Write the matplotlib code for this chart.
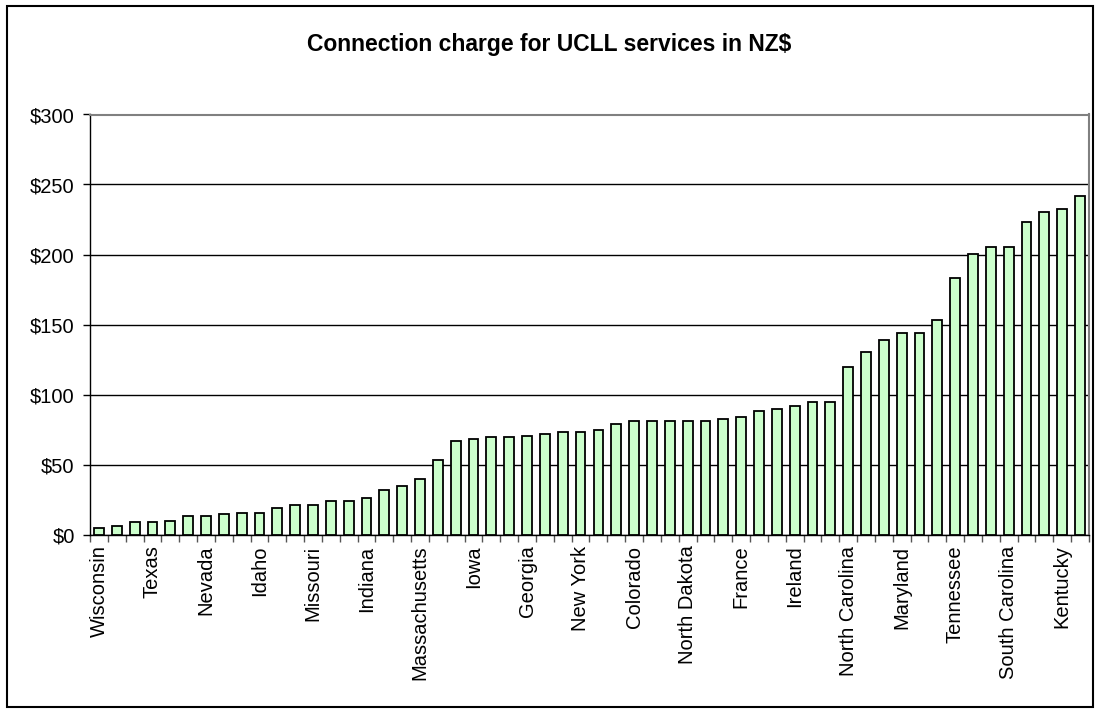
import matplotlib
matplotlib.use("Agg")
import matplotlib.pyplot as plt
from matplotlib.patches import Rectangle
from matplotlib.ticker import FuncFormatter, FixedLocator

plt.rcParams['font.family'] = ['Liberation Sans', 'DejaVu Sans']

title = "Connection charge for UCLL services in NZ$"

# Connection charge per jurisdiction, sorted ascending (NZ$)
charges = [5, 6, 9, 9, 10, 13, 13, 14.5, 15.7, 15.7,
           18.6, 21, 21, 23.8, 23.8, 26.4, 32, 34.5, 40, 53,
           66.6, 68, 69.3, 69.3, 70.4, 71.9, 73.3, 73.3, 74.5, 78.6,
           81.4, 81.4, 81.4, 81.4, 81.4, 82.6, 84, 88, 89.3, 92,
           94.5, 94.5, 120, 130.7, 138.8, 144, 144, 153.3, 183, 200.2,
           205.7, 205.7, 223.3, 230, 232.4, 241.9]

# Every third category carries a label
label_step = 3
shown_labels = ["Wisconsin", "Texas", "Nevada", "Idaho", "Missouri", "Indiana",
                "Massachusetts", "Iowa", "Georgia", "New York", "Colorado",
                "North Dakota", "France", "Ireland", "North Carolina", "Maryland",
                "Tennessee", "South Carolina", "Kentucky"]

y_ticks = [0, 50, 100, 150, 200, 250, 300]

W, H = 1099, 713
fig = plt.figure(figsize=(W / 100, H / 100), dpi=100)
fig.patch.set_facecolor("white")

# outer chart frame
fig.patches.append(Rectangle((7 / W, 1 - 707 / H), (1093 - 7) / W, (707 - 6) / H,
                             transform=fig.transFigure, fill=False,
                             edgecolor="black", linewidth=1.5, zorder=0))

left, right, top, bottom = 90, 1089, 114.5, 534.5
ax = fig.add_axes([left / W, 1 - bottom / H, (right - left) / W, (bottom - top) / H])

n = len(charges)
xs = list(range(n))
ax.bar(xs, charges, width=0.55, color="#CCFFCC", edgecolor="black",
       linewidth=1.3, zorder=3)

ax.set_xlim(-0.5, n - 0.5)
ax.set_ylim(0, 300)

# horizontal gridlines
ax.set_yticks(y_ticks)
ax.yaxis.set_major_formatter(FuncFormatter(lambda v, p: f"${int(v)}"))
ax.grid(axis="y", color="black", linewidth=1.0, zorder=1)
ax.tick_params(axis="y", direction="out", length=5, width=1, color="black",
               labelsize=14.5, pad=6)

# x: tick marks at category boundaries, labels on every third category
ax.xaxis.set_minor_locator(FixedLocator([i - 0.5 for i in range(n + 1)]))
ax.set_xticks(xs[::label_step])
ax.set_xticklabels(shown_labels, rotation=90, fontsize=14.5)
ax.tick_params(axis="x", which="major", length=0, pad=8)
ax.tick_params(axis="x", which="minor", direction="out", length=5, width=1,
               color="#555555")

for side in ("top", "right"):
    ax.spines[side].set_color("#808080")
    ax.spines[side].set_linewidth(1.5)
for side in ("left", "bottom"):
    ax.spines[side].set_color("black")
    ax.spines[side].set_linewidth(1.0)
ax.set_axisbelow(True)

fig.text(0.5, 1 - 45 / H, title, ha="center", va="center",
         fontsize=16.5, fontweight="bold")

fig.savefig("out.png", dpi=100, facecolor="white")
